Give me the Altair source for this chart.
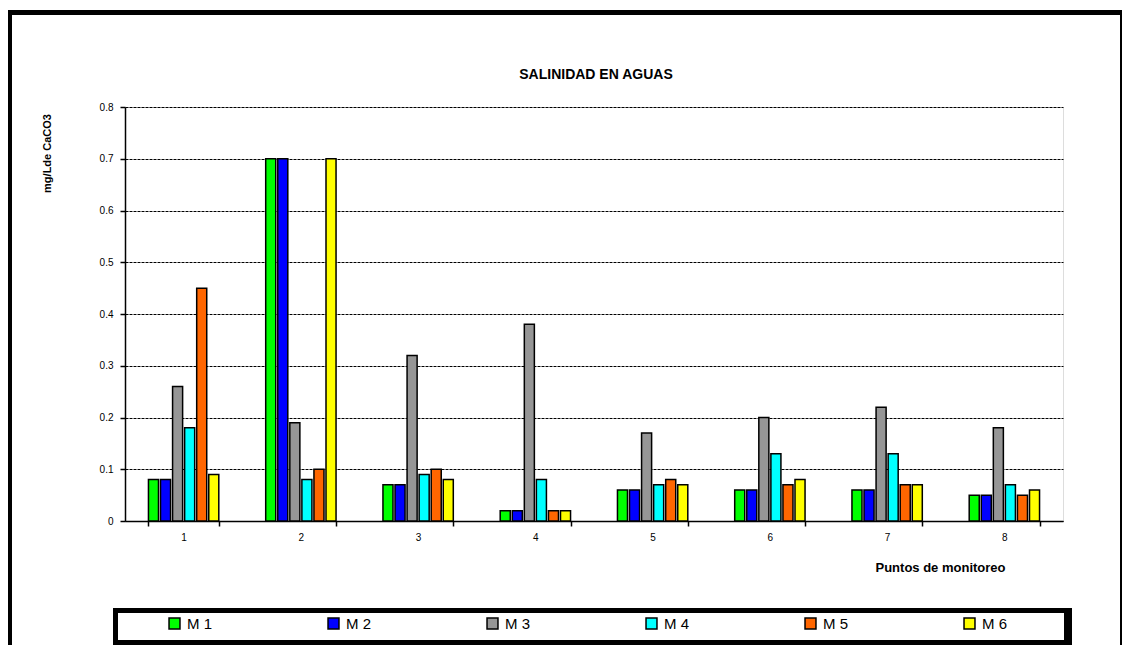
import altair as alt
import pandas as pd

# ---- data ----
puntos = ["1", "2", "3", "4", "5", "6", "7", "8"]
series = ["M 1", "M 2", "M 3", "M 4", "M 5", "M 6"]
m1 = [0.08, 0.70, 0.07, 0.02, 0.06, 0.06, 0.06, 0.05]
m2 = [0.08, 0.70, 0.07, 0.02, 0.06, 0.06, 0.06, 0.05]
m3 = [0.26, 0.19, 0.32, 0.38, 0.17, 0.20, 0.22, 0.18]
m4 = [0.18, 0.08, 0.09, 0.08, 0.07, 0.13, 0.13, 0.07]
m5 = [0.45, 0.10, 0.10, 0.02, 0.08, 0.07, 0.07, 0.05]
m6 = [0.09, 0.70, 0.08, 0.02, 0.07, 0.08, 0.07, 0.06]
colors = ["#00FF00", "#0000FF", "#969696", "#00FFFF", "#FF6600", "#FFFF00"]
y_ticks = [0, 0.1, 0.2, 0.3, 0.4, 0.5, 0.6, 0.7, 0.8]

title_text = "SALINIDAD EN AGUAS"
x_title = "Puntos de monitoreo"
y_title = "mg/Lde CaCO3"

FONT = "Liberation Sans"

rows = []
for s, vals in zip(series, [m1, m2, m3, m4, m5, m6]):
    for p, v in zip(puntos, vals):
        rows.append({"punto": p, "serie": s, "valor": v})
df = pd.DataFrame(rows)

W, H = 938, 414

bars = alt.Chart(df).mark_bar(stroke="black", strokeWidth=1.5).encode(
    x=alt.X("punto:N", sort=puntos,
            scale=alt.Scale(paddingInner=0.4, paddingOuter=0.2),
            axis=alt.Axis(title=x_title, labelAngle=0, labelFont=FONT, labelFontSize=10,
                          labelColor="black", labelPadding=6,
                          tickBand="extent", tickColor="black", tickSize=5, tickWidth=1.5,
                          domainColor="black", domainWidth=1.5,
                          titleFont=FONT, titleFontSize=13, titleFontWeight="bold",
                          titleColor="black", titleX=815, titleY=46,
                          titleAlign="center", titleBaseline="middle")),
    xOffset=alt.XOffset("serie:N", sort=series,
                        scale=alt.Scale(paddingInner=0.167, paddingOuter=0)),
    y=alt.Y("valor:Q",
            scale=alt.Scale(domain=[0, 0.8], nice=False),
            axis=alt.Axis(values=y_ticks, title=y_title,
                          labelExpr="datum.value == 0 ? '0' : format(datum.value, '.1f')",
                          labelFont=FONT, labelFontSize=10, labelColor="black",
                          labelPadding=7, tickColor="black", tickSize=5, tickWidth=1.5,
                          domainColor="black", domainWidth=1.5,
                          grid=True, gridColor="black", gridDash=[3, 1], gridWidth=1,
                          titleFont=FONT, titleFontSize=11, titleFontWeight="bold",
                          titleColor="black", titleX=-78, titleY=46, titleAngle=-90,
                          titleAlign="center", titleBaseline="middle")),
    color=alt.Color("serie:N", sort=series,
                    scale=alt.Scale(domain=series, range=colors),
                    legend=alt.Legend(orient="none", legendX=42, legendY=509,
                                      direction="horizontal", columns=6, title=None,
                                      symbolType="square", symbolSize=120,
                                      symbolStrokeColor="black", symbolStrokeWidth=1.5,
                                      labelFont=FONT, labelFontSize=15, labelColor="black",
                                      labelOffset=5, columnPadding=112)),
)

one = alt.Data(values=[{"k": 1}])

def box(x1, x2, y1, y2, color):
    return alt.Chart(one).mark_rect(color=color).encode(
        x=alt.value(x1), x2=alt.value(x2), y=alt.value(y1), y2=alt.value(y2))

title_mark = alt.Chart(one).mark_text(
    text=title_text, font=FONT, fontSize=14, fontWeight="bold", color="black",
    align="center", baseline="middle"
).encode(x=alt.value(471), y=alt.value(-32))

decor = [
    box(-119, -113, -97, 560, "black"),   # frame left
    box(-119, 997, -97, -92, "black"),    # frame top
    box(995, 997, -97, 560, "black"),     # frame right
    box(-12, 947, 501, 538, "black"),     # legend box border
    box(-7, 939, 506, 533, "white"),      # legend box inside
]

chart = alt.layer(*decor, title_mark, bars).properties(
    width=W, height=H,
    autosize=alt.AutoSizeParams(type="none"),
    padding={"left": 117, "top": 99, "right": 59, "bottom": 124},
).configure_view(stroke="black", strokeWidth=1.5).configure(background="white")

chart.save("out.html", embed_options={"renderer": "svg", "actions": False})
